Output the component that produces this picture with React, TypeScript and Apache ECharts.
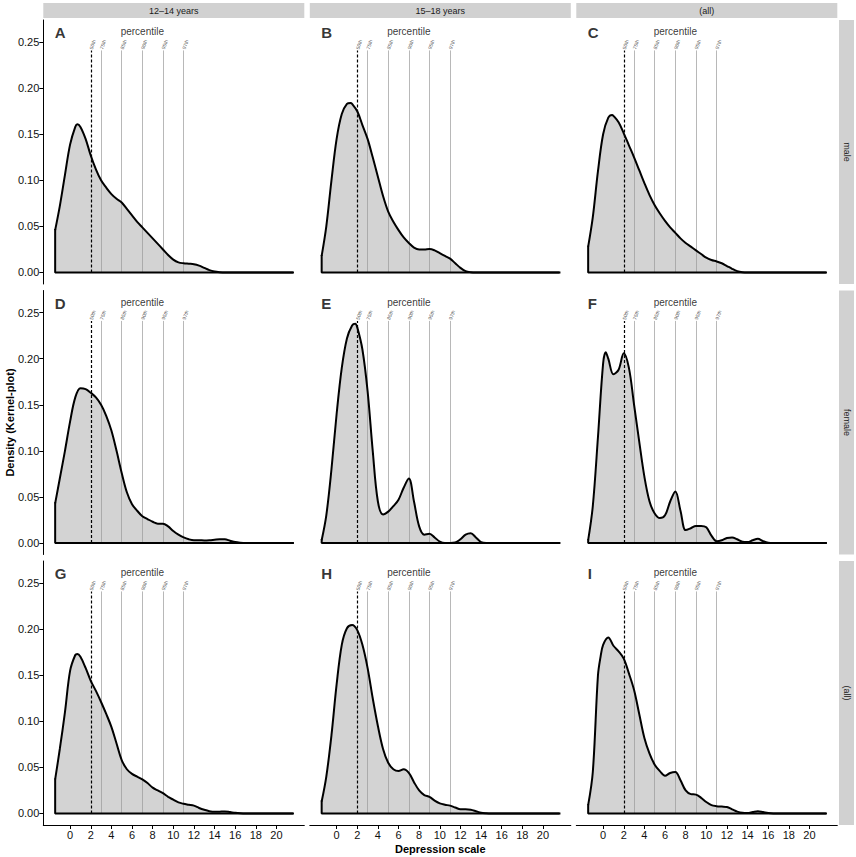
import React, { useEffect, useRef } from "react";
import * as echarts from "echarts";

const colStrips = ["12–14 years", "15–18 years", "(all)"];
const rowStrips = ["male", "female", "(all)"];
const panelLetters = ["A", "B", "C", "D", "E", "F", "G", "H", "I"];
const xTicks = [0, 2, 4, 6, 8, 10, 12, 14, 16, 18, 20];
const yTicks = [0, 0.05, 0.1, 0.15, 0.2, 0.25];
const percentileX = [2, 3, 5, 7, 9, 11];
const percentileLabels = ["50th", "75th", "85th", "90th", "95th", "97th"];

const densityA: [number, number][] = [[-1.45,0.046],[-1,0.072],[-0.5,0.106],[0,0.139],[0.5,0.158],[0.7,0.161],[1,0.158],[1.5,0.145],[2,0.127],[2.5,0.112],[3,0.1],[3.5,0.092],[4,0.085],[4.5,0.08],[5,0.076],[5.5,0.069],[6,0.062],[6.5,0.055],[7,0.049],[7.5,0.043],[8,0.037],[8.5,0.031],[9,0.025],[9.5,0.019],[10,0.014],[10.5,0.011],[11,0.01],[11.5,0.0095],[12,0.009],[12.5,0.0075],[13,0.005],[13.5,0.0025],[14,0.001],[14.5,0.0003],[15,0],[16,0],[18,0],[21.6,0]];
const densityB: [number, number][] = [[-1.45,0.018],[-1,0.05],[-0.5,0.1],[0,0.145],[0.5,0.172],[1,0.183],[1.35,0.184],[1.5,0.183],[2,0.175],[2.5,0.16],[3,0.145],[3.5,0.125],[4,0.104],[4.5,0.083],[5,0.066],[5.5,0.055],[6,0.046],[6.5,0.038],[7,0.032],[7.5,0.027],[8,0.025],[8.5,0.025],[9,0.0255],[9.5,0.024],[10,0.021],[10.5,0.018],[11,0.015],[11.5,0.01],[12,0.005],[12.5,0.0015],[13,0.0003],[13.5,0],[15,0],[18,0],[21.6,0]];
const densityC: [number, number][] = [[-1.45,0.028],[-1,0.06],[-0.5,0.11],[0,0.15],[0.5,0.168],[0.87,0.171],[1,0.17],[1.5,0.163],[2,0.151],[2.5,0.138],[3,0.125],[3.5,0.111],[4,0.097],[4.5,0.084],[5,0.073],[5.5,0.064],[6,0.056],[6.5,0.049],[7,0.043],[7.5,0.037],[8,0.032],[8.5,0.028],[9,0.024],[9.5,0.02],[10,0.016],[10.5,0.0135],[11,0.012],[11.5,0.01],[12,0.007],[12.5,0.004],[13,0.0015],[13.5,0.0003],[14,0],[16,0],[18,0],[21.6,0]];
const densityD: [number, number][] = [[-1.45,0.043],[-1,0.07],[-0.5,0.1],[0,0.132],[0.5,0.158],[1,0.168],[1.5,0.167],[2,0.163],[2.5,0.158],[3,0.15],[3.5,0.138],[4,0.122],[4.5,0.1],[5,0.076],[5.5,0.055],[6,0.042],[6.5,0.035],[7,0.029],[7.5,0.026],[8,0.023],[8.5,0.021],[9,0.021],[9.5,0.018],[10,0.013],[10.5,0.009],[11,0.006],[11.5,0.004],[12,0.003],[12.5,0.003],[13,0.0028],[13.5,0.003],[14,0.0035],[14.5,0.004],[15,0.004],[15.5,0.0025],[16,0.001],[16.5,0.0003],[17,0],[18,0],[21.6,0]];
const densityE: [number, number][] = [[-1.45,0.003],[-1,0.03],[-0.5,0.08],[0,0.14],[0.5,0.19],[1,0.222],[1.5,0.236],[1.8,0.238],[2,0.234],[2.5,0.21],[3,0.165],[3.5,0.1],[4,0.045],[4.5,0.031],[5,0.034],[5.5,0.04],[6,0.047],[6.5,0.06],[7,0.07],[7.5,0.045],[8,0.018],[8.5,0.009],[9,0.01],[9.5,0.006],[10,0.0015],[10.5,0],[11,0],[11.5,0.0005],[12,0.004],[12.5,0.009],[13,0.0105],[13.5,0.006],[14,0.001],[14.5,0],[16,0],[18,0],[21.6,0]];
const densityF: [number, number][] = [[-1.45,0.003],[-1,0.04],[-0.5,0.115],[0,0.195],[0.25,0.207],[0.5,0.2],[1,0.183],[1.5,0.188],[2,0.206],[2.5,0.19],[3,0.15],[3.5,0.11],[4,0.072],[4.5,0.045],[5,0.032],[5.5,0.027],[6,0.03],[6.5,0.045],[7,0.056],[7.5,0.035],[8,0.014],[8.5,0.016],[9,0.0185],[9.5,0.0185],[10,0.017],[10.5,0.008],[11,0.002],[11.5,0.003],[12,0.0055],[12.5,0.006],[13,0.004],[13.5,0.0015],[14,0.001],[14.5,0.003],[15,0.0045],[15.5,0.002],[16,0.0003],[16.5,0],[18,0],[21.6,0]];
const densityG: [number, number][] = [[-1.45,0.037],[-1,0.07],[-0.5,0.11],[0,0.155],[0.5,0.172],[0.7,0.173],[1,0.17],[1.5,0.158],[2,0.144],[2.5,0.133],[3,0.121],[3.5,0.108],[4,0.094],[4.5,0.076],[5,0.058],[5.5,0.048],[6,0.043],[6.5,0.04],[7,0.037],[7.5,0.033],[8,0.028],[8.5,0.025],[9,0.022],[9.5,0.018],[10,0.015],[10.5,0.012],[11,0.0105],[11.5,0.0095],[12,0.0085],[12.5,0.006],[13,0.004],[13.5,0.0025],[14,0.0018],[14.5,0.002],[15,0.0022],[15.5,0.0015],[16,0.0007],[16.5,0.0002],[17,0],[18,0],[21.6,0]];
const densityH: [number, number][] = [[-1.45,0.013],[-1,0.04],[-0.5,0.085],[0,0.14],[0.5,0.183],[1,0.201],[1.5,0.2045],[2,0.199],[2.5,0.183],[3,0.158],[3.5,0.125],[4,0.095],[4.5,0.07],[5,0.055],[5.5,0.048],[6,0.046],[6.5,0.048],[7,0.044],[7.5,0.034],[8,0.025],[8.5,0.02],[9,0.018],[9.5,0.014],[10,0.011],[10.5,0.0095],[11,0.0085],[11.5,0.0065],[12,0.0045],[12.5,0.0045],[13,0.004],[13.5,0.0025],[14,0.0008],[14.5,0.0002],[15,0],[16,0],[18,0],[21.6,0]];
const densityI: [number, number][] = [[-1.45,0.009],[-1,0.045],[-0.5,0.15],[-0.25,0.17],[0,0.183],[0.5,0.191],[1,0.182],[1.5,0.176],[2,0.168],[2.5,0.152],[3,0.134],[3.5,0.108],[4,0.082],[4.5,0.065],[5,0.053],[5.5,0.046],[6,0.041],[6.5,0.044],[7,0.045],[7.5,0.036],[8,0.025],[8.5,0.021],[9,0.0205],[9.5,0.017],[10,0.0125],[10.5,0.009],[11,0.0079],[11.5,0.0075],[12,0.007],[12.5,0.0045],[13,0.002],[13.5,0.0007],[14,0.0005],[14.5,0.0015],[15,0.0025],[15.5,0.0015],[16,0.0004],[16.5,0],[18,0],[21.6,0]];

const densities = [densityA, densityB, densityC, densityD, densityE, densityF, densityG, densityH, densityI];

const FONT = "'Liberation Sans', Arial, Helvetica, sans-serif";
const GRID_LEFT0 = 43.3;
const COL_PITCH = 266.5;
const GRID_W = 261;
const GRID_TOP0 = 20;
const ROW_PITCH = 270.5;
const GRID_H = 264;
const X_MIN = -2.6;
const X_MAX = 22.7;
const Y_MIN = -0.0125;
const Y_MAX = 0.274;
const LINE_TOP = 0.241;

export default function App() {
  const ref = useRef<HTMLDivElement>(null);
  useEffect(() => {
    if (!ref.current) return;
    const chart = echarts.init(ref.current, undefined, { renderer: "svg" });
    const grids: any[] = [];
    const xAxes: any[] = [];
    const yAxes: any[] = [];
    const series: any[] = [];
    const graphics: any[] = [];
    for (let i = 0; i < 9; i++) {
      const row = Math.floor(i / 3);
      const col = i % 3;
      const left = GRID_LEFT0 + col * COL_PITCH;
      const top = GRID_TOP0 + row * ROW_PITCH;
      grids.push({ left, top, width: GRID_W, height: GRID_H });
      const showX = row === 2;
      const showY = col === 0;
      xAxes.push({
        gridIndex: i, type: "value", min: X_MIN, max: X_MAX,
        axisLine: { show: showX, onZero: false, lineStyle: { color: "#000", width: 1 } },
        axisTick: { show: showX, length: 4, customValues: xTicks, lineStyle: { color: "#000" } },
        axisLabel: { show: showX, customValues: xTicks, fontSize: 11, color: "#111", fontFamily: FONT, margin: 4 },
        splitLine: { show: false },
      });
      yAxes.push({
        gridIndex: i, type: "value", min: Y_MIN, max: Y_MAX,
        axisLine: { show: showY, onZero: false, lineStyle: { color: "#000", width: 1 } },
        axisTick: { show: showY, length: 4, customValues: yTicks, lineStyle: { color: "#000" } },
        axisLabel: { show: showY, customValues: yTicks, fontSize: 11, color: "#111", fontFamily: FONT, margin: 4,
          formatter: (v: number) => v.toFixed(2) },
        splitLine: { show: false },
      });
      const dens = densities[i];
      // filled area
      series.push({
        type: "line", xAxisIndex: i, yAxisIndex: i, data: dens, smooth: 0.35, symbol: "none",
        lineStyle: { width: 0.8, color: "#ffffff" }, areaStyle: { color: "#d3d3d3", opacity: 1 }, z: 1, silent: true,
      });
      // percentile lines
      series.push({
        type: "line", xAxisIndex: i, yAxisIndex: i, data: [], symbol: "none", silent: true,
        markLine: {
          silent: true, symbol: "none", z: 5, label: { show: false },
          data: percentileX.map((x, k) => [
            { coord: [x, 0], lineStyle: k === 0 ? { color: "#000", width: 1.2, type: [3, 2] } : { color: "#9a9a9a", width: 0.7, type: "solid" } },
            { coord: [x, LINE_TOP] },
          ]),
        },
      });
      // black outline
      series.push({
        type: "line", xAxisIndex: i, yAxisIndex: i, data: dens, smooth: 0.35, symbol: "none",
        lineStyle: { width: 2, color: "#000" }, z: 10, silent: true,
      });
      series.push({
        type: "line", xAxisIndex: i, yAxisIndex: i,
        data: [[dens[0][0], dens[0][1]], [dens[0][0], 0], [dens[dens.length - 1][0], 0]],
        smooth: false, symbol: "none", lineStyle: { width: 2, color: "#000", cap: "square" }, z: 10, silent: true,
      });
      // texts
      const texts: any[] = [
        { value: [-1.5, 0.26], label: { show: true, formatter: panelLetters[i], position: [0, 0], align: "left", verticalAlign: "middle", fontSize: 15, fontWeight: "bold", color: "#000", fontFamily: FONT } },
        { value: [7, 0.2615], label: { show: true, formatter: "percentile", position: [0, 0], align: "center", verticalAlign: "middle", fontSize: 10, color: "#000", fontFamily: FONT } },
        ...percentileX.map((x, k) => ({
          value: [x, 0.2425],
          label: { show: true, formatter: percentileLabels[k], position: [0, 0], align: "left", verticalAlign: "middle", rotate: 70, fontSize: 5, color: "#333", fontFamily: FONT },
        })),
      ];
      series.push({
        type: "scatter", xAxisIndex: i, yAxisIndex: i, data: texts, symbolSize: 0, silent: true, z: 12,
      });
    }
    // strips
    for (let c = 0; c < 3; c++) {
      const left = GRID_LEFT0 + c * COL_PITCH;
      graphics.push({ type: "rect", shape: { x: left, y: 3, width: GRID_W, height: 15 }, style: { fill: "#d1d1d1" }, silent: true });
      graphics.push({ type: "text", x: left + GRID_W / 2, y: 10.5, style: { text: colStrips[c], fontSize: 9, fill: "#1a1a1a", font: `9px ${FONT}`, align: "center", verticalAlign: "middle" }, silent: true });
    }
    for (let r = 0; r < 3; r++) {
      const top = GRID_TOP0 + r * ROW_PITCH;
      graphics.push({ type: "rect", shape: { x: 839, y: top, width: 15, height: GRID_H }, style: { fill: "#d1d1d1" }, silent: true });
      graphics.push({ type: "text", x: 846.5, y: top + GRID_H / 2, rotation: -Math.PI / 2, style: { text: rowStrips[r], fontSize: 9, fill: "#1a1a1a", font: `9px ${FONT}`, align: "center", verticalAlign: "middle" }, silent: true });
    }
    graphics.push({ type: "text", x: 10, y: (GRID_TOP0 + GRID_TOP0 + 2 * ROW_PITCH + GRID_H) / 2, rotation: Math.PI / 2, style: { text: "Density (Kernel-plot)", font: `bold 11px ${FONT}`, fill: "#000", align: "center", verticalAlign: "middle" }, silent: true });
    graphics.push({ type: "text", x: GRID_LEFT0 + (2 * COL_PITCH + GRID_W) / 2, y: 849, style: { text: "Depression scale", font: `bold 11px ${FONT}`, fill: "#000", align: "center", verticalAlign: "middle" }, silent: true });

    chart.setOption({
      animation: false,
      backgroundColor: "#ffffff",
      textStyle: { fontFamily: FONT },
      grid: grids,
      xAxis: xAxes,
      yAxis: yAxes,
      series,
      graphic: graphics,
    });
    return () => chart.dispose();
  }, []);
  return <div ref={ref} style={{ position: "absolute", left: 0, top: 0, width: 856, height: 857 }} />;
}
